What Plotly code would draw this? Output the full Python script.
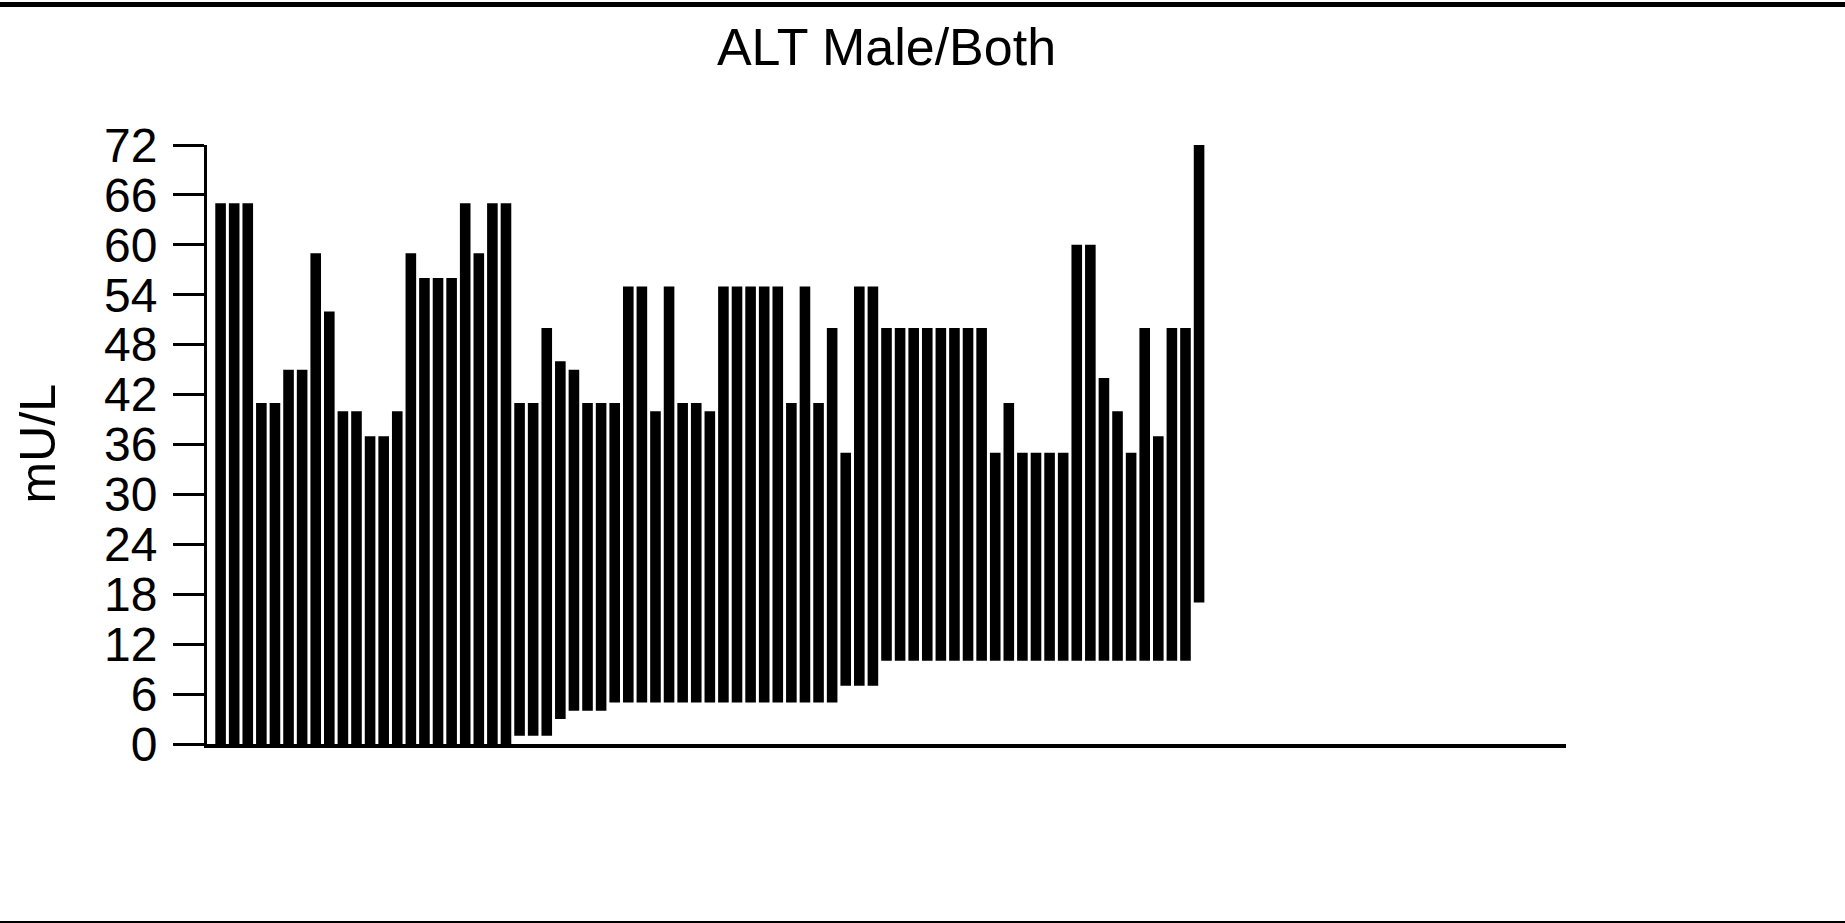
import plotly.graph_objects as go

# ALT reference ranges (mU/L), one floating bar per source: low and high limit
sources = list(range(1, 74))
low_limits = [0] * 22 + [1, 1, 1, 3, 4, 4, 4] + [5] * 17 + [7, 7, 7] + [10] * 23 + [17]
high_limits = [
    65, 65, 65, 41, 41, 45, 45, 59, 52, 40, 40, 37, 37, 40, 59, 56, 56, 56, 65, 59, 65, 65,
    41, 41, 50, 46, 45, 41, 41, 41, 55, 55, 40, 55, 41, 41, 40, 55, 55, 55, 55, 55, 41, 55,
    41, 50, 35, 55, 55,
    50, 50, 50, 50, 50, 50, 50, 50, 35, 41, 35, 35, 35, 35, 60, 60, 44, 40, 35, 50, 37, 50,
    50, 72,
]
y_ticks = [0, 6, 12, 18, 24, 30, 36, 42, 48, 54, 60, 66, 72]

heights = [h - l for h, l in zip(high_limits, low_limits)]

W, H = 1845, 923
M_L, M_R, M_T, M_B = 207, 279, 145, 179
PLOT_W = W - M_L - M_R
PLOT_H = H - M_T - M_B
FONT = "Liberation Sans, Arial, sans-serif"


def px_x(p):
    return (p - M_L) / PLOT_W


def px_y(p):
    return (H - M_B - p) / PLOT_H


fig = go.Figure(
    go.Bar(
        x=sources,
        y=heights,
        base=low_limits,
        marker=dict(color="black", line=dict(width=0)),
        width=0.78,
        hoverinfo="skip",
    )
)

fig.update_layout(
    width=W,
    height=H,
    margin=dict(l=M_L, r=M_R, t=M_T, b=M_B, pad=0),
    paper_bgcolor="white",
    plot_bgcolor="white",
    showlegend=False,
    font=dict(family=FONT, color="black"),
    title=dict(
        text="ALT Male/Both",
        x=0.5,
        xref="paper",
        xanchor="center",
        y=1 - 47 / H,
        yref="container",
        yanchor="middle",
        font=dict(size=52, family=FONT, color="black"),
    ),
    xaxis=dict(
        range=[0, 100],
        showgrid=False,
        zeroline=False,
        showticklabels=False,
        ticks="",
        showline=True,
        linecolor="black",
        linewidth=4,
        fixedrange=True,
    ),
    yaxis=dict(
        range=[0, 72],
        tickvals=y_ticks,
        ticktext=[str(v) for v in y_ticks],
        ticks="outside",
        ticklen=31,
        tickwidth=3,
        tickcolor="black",
        ticklabelstandoff=6,
        tickfont=dict(size=48, family=FONT, color="black"),
        showgrid=False,
        zeroline=False,
        showline=True,
        linecolor="black",
        linewidth=3,
        fixedrange=True,
    ),
    annotations=[
        dict(
            text="mU/L",
            xref="paper",
            yref="paper",
            x=px_x(37),
            y=0.5,
            xanchor="center",
            yanchor="middle",
            textangle=-90,
            showarrow=False,
            font=dict(size=50, family=FONT, color="black"),
        )
    ],
    shapes=[
        # frame lines at the top and bottom edges of the page
        dict(
            type="rect",
            xref="paper",
            yref="paper",
            x0=px_x(0),
            x1=px_x(W),
            y0=px_y(7),
            y1=px_y(2),
            fillcolor="black",
            line=dict(width=0),
            layer="above",
        ),
        dict(
            type="rect",
            xref="paper",
            yref="paper",
            x0=px_x(0),
            x1=px_x(W),
            y0=px_y(923),
            y1=px_y(921),
            fillcolor="black",
            line=dict(width=0),
            layer="above",
        ),
    ],
)

fig.write_html("out.html", config={"displayModeBar": False})
